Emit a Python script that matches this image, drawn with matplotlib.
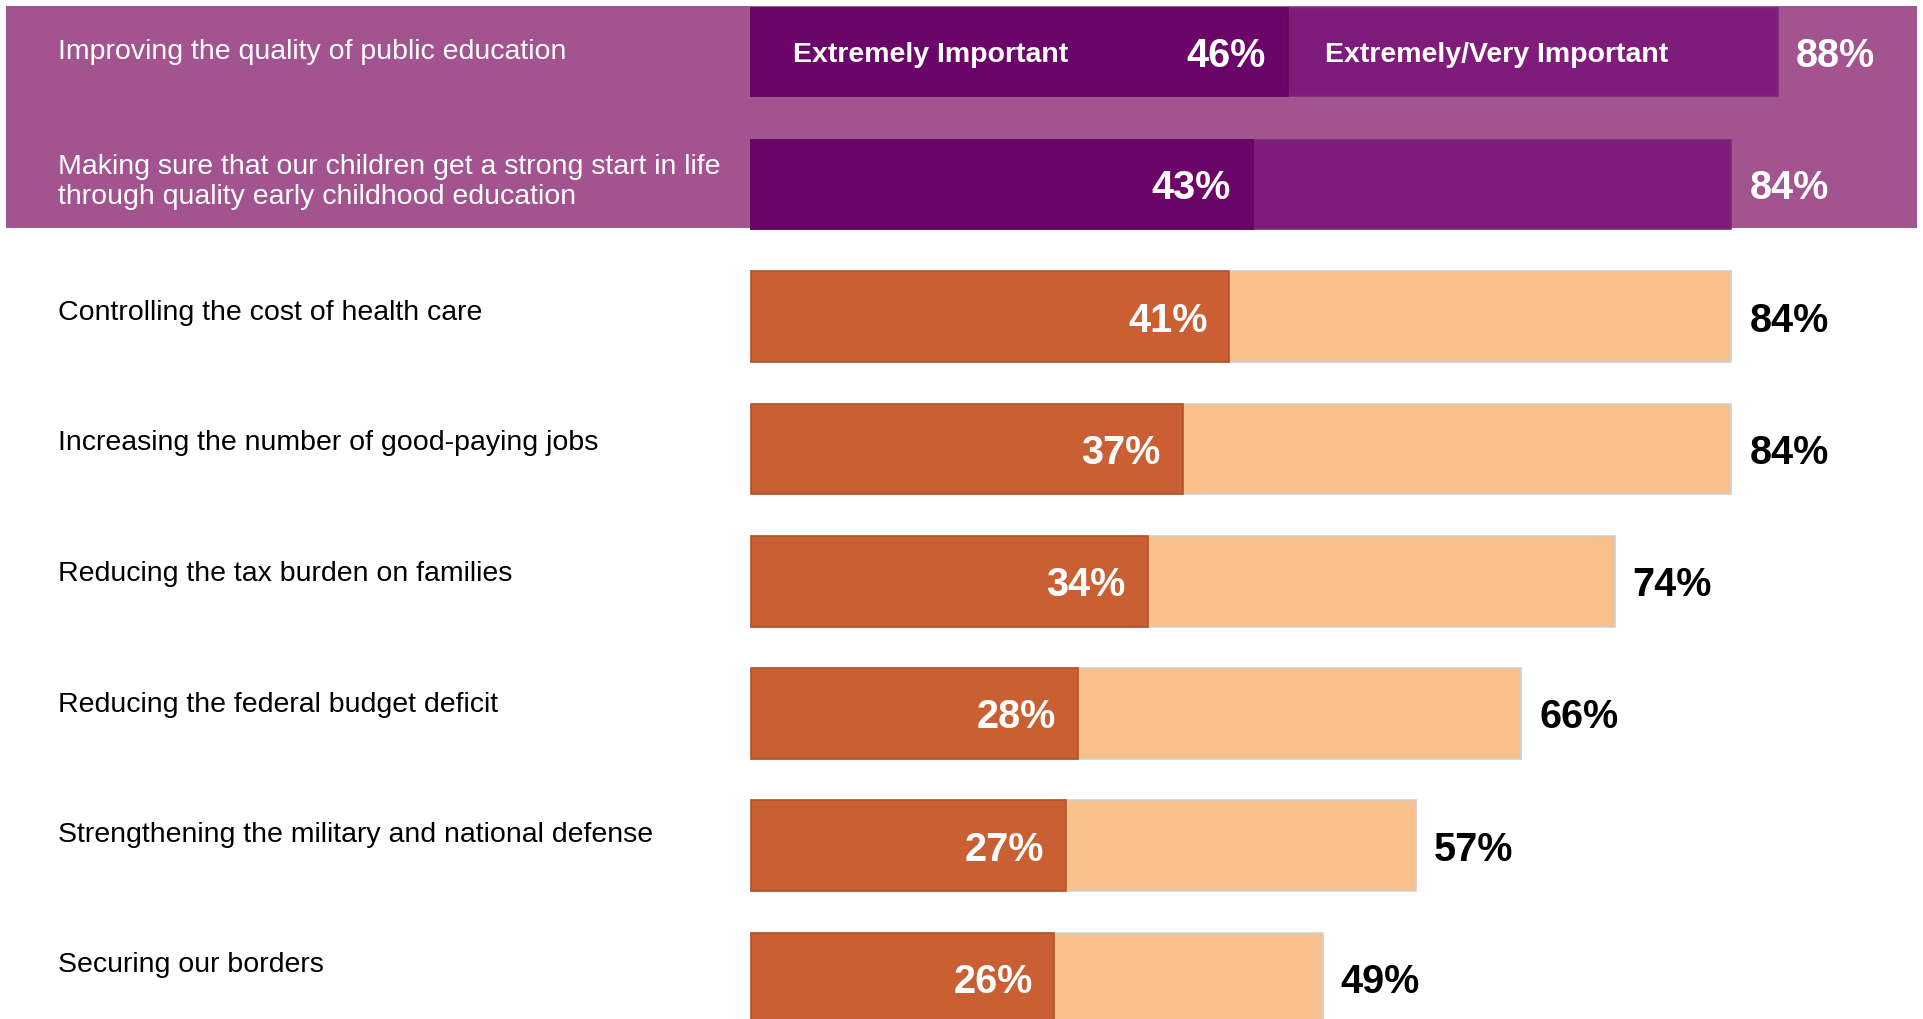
import matplotlib.pyplot as plt
from matplotlib.patches import Rectangle

# survey items, top to bottom
items = [
    "Improving the quality of public education",
    "Making sure that our children get a strong start in life\nthrough quality early childhood education",
    "Controlling the cost of health care",
    "Increasing the number of good-paying jobs",
    "Reducing the tax burden on families",
    "Reducing the federal budget deficit",
    "Strengthening the military and national defense",
    "Securing our borders",
]
extremely = [46, 43, 41, 37, 34, 28, 27, 26]
extremely_very = [88, 84, 84, 84, 74, 66, 57, 49]
highlighted = [True, True, False, False, False, False, False, False]

W, H = 1923, 1019
plt.rcParams['font.family'] = ['Liberation Sans', 'DejaVu Sans']

fig = plt.figure(figsize=(W / 100, H / 100), dpi=100)
ax = fig.add_axes([0, 0, 1, 1])

# pixel layout: bars start at x=751, ~11.67 px per percent, rows 132 px apart
x0_px, px_per = 751, 11.67
row0_px, row_px = 52, 132.3
ax.set_xlim(-x0_px / px_per, (W - x0_px) / px_per)
ax.set_ylim((H - row0_px) / row_px, -row0_px / row_px)
ax.axis('off')

# the left labels sit on a slightly tighter pitch than the bars
lab0_px, lab_step_px = 52, 130.5

# purple highlight band behind the first two rows
band = Rectangle((6 / W, 1 - 228 / H), (1917 - 6) / W, (228 - 6) / H,
                 transform=ax.transAxes, facecolor='#A3538F', edgecolor='none', zorder=0.5)
ax.add_artist(band)

for i, (lab, e, ev, hl) in enumerate(zip(items, extremely, extremely_very, highlighted)):
    if hl:
        c_dark, c_light, edge, edge_d = '#6C0569', '#7F1C7B', '#7a2a72', '#5e0a5a'
        txt_out = 'white'
        bar_h = 0.67
    else:
        c_dark, c_light, edge, edge_d = '#C95F32', '#F8C18C', '#cfcfcf', '#b0552d'
        txt_out = 'black'
        bar_h = 0.685
    ax.barh(i, ev, height=bar_h, left=0, color=c_light, edgecolor=edge, linewidth=1.2, zorder=2)
    ax.barh(i, e, height=bar_h, left=0, color=c_dark, edgecolor=edge_d, linewidth=1.2, zorder=3)
    ax.text(e - 22 / px_per, i + 0.03, f"{e}%", ha='right', va='center', color='white',
            fontsize=28.5, fontweight='bold', zorder=4)
    ax.text(ev + 18 / px_per, i + 0.03, f"{ev}%", ha='left', va='center',
            color=txt_out, fontsize=28.5, fontweight='bold', zorder=4)
    lab_y = (lab0_px + lab_step_px * i - row0_px) / row_px
    ax.text(-x0_px / px_per + 58 / px_per, lab_y, lab, ha='left', va='center',
            color='white' if hl else 'black', fontsize=20.5, linespacing=1.2, zorder=4)

# series names inside the top bar
ax.text(42 / px_per, 0.02, "Extremely Important", ha='left', va='center', color='white',
        fontsize=20.5, fontweight='bold', zorder=4)
ax.text(extremely[0] + 37 / px_per, 0.02, "Extremely/Very Important", ha='left', va='center',
        color='white', fontsize=20.5, fontweight='bold', zorder=4)

fig.savefig('out.png', dpi=100)
